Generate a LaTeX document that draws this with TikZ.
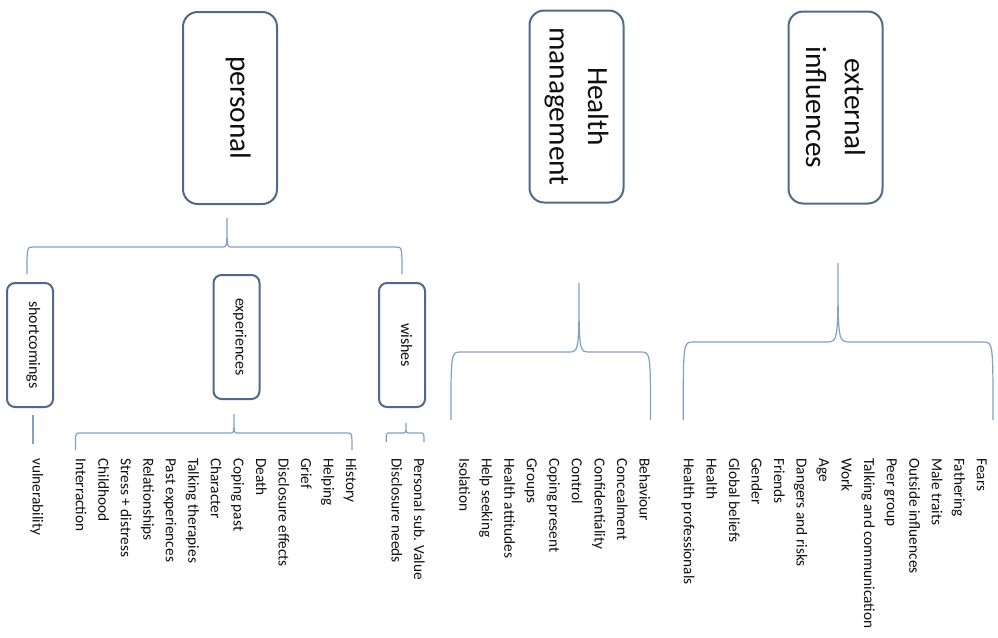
\documentclass[tikz,border=0pt]{standalone}
\usepackage{fontspec}
\setmainfont{Carlito}
\usetikzlibrary{calc}
\definecolor{boxline}{RGB}{78,106,136}
\definecolor{braceline}{RGB}{128,160,198}
\definecolor{itemtext}{RGB}{15,15,15}
\def\curlybrace[#1](#2)(#3)(#4)(#5:#6:#7){\draw[#1] (#2) .. controls (#2|-#5) .. ($(#2|-#5)+(#6,0)$) -- ($(#3|-#5)-(#7,0)$) .. controls (#3|-#5) .. (#3) .. controls (#3|-#5) .. ($(#3|-#5)+(#7,0)$) -- ($(#4|-#5)-(#6,0)$) .. controls (#4|-#5) .. (#4);}
\tikzset{
  topbox/.style={draw=boxline, line width=1.5pt, rounded corners=11pt, rotate=-90, minimum width=144pt, minimum height=70.5pt, inner sep=0pt, align=center, text=itemtext, font=\fontsize{22}{29}\selectfont},
  subbox/.style={draw=boxline, line width=1.5pt, rounded corners=6pt, rotate=-90, minimum width=93pt, minimum height=34.5pt, inner sep=0pt, text height=6pt, text depth=4.5pt, text=itemtext, font=\fontsize{12}{14}\selectfont},
  itemlist/.style={rotate=-90, anchor=north west, align=left, inner sep=0pt, text=itemtext, font=\fontsize{11.5}{16.9}\selectfont},
  brace/.style={draw=braceline, line width=0.9pt},
}

\begin{document}
\begin{tikzpicture}[x=0.75pt, y=-0.75pt]
		%%%%% START %%%%%
		\useasboundingbox (0,0) rectangle (998,637);
		
		\node[topbox, text height=10pt, text depth=10.5pt] (personal) at (230,108) {personal};
		\node[topbox] (health) at (576.5,106.5) {Health\\management};
		\node[topbox] (external) at (835.5,107.5) {external\\influences};
		
		\node[subbox] (shortc) at (30,345) {shortcomings};
		\node[subbox] (exper) at (236.5,337) {experiences};
		\node[subbox] (wishes) at (402,345) {wishes};
		
		\node[itemlist] (vuln) at (43.5,458) {vulnerability};
		\node[itemlist] (explist) at (357,458) {History\\Helping\\Grief\\Disclosure effects\\Death\\Coping past\\Character\\Talking therapies\\Past experiences\\Relationships\\Stress + distress\\Childhood\\Interraction};
		\node[itemlist] (wishlist) at (425,458) {Personal sub. Value\\Disclosure needs};
		\node[itemlist] (healthlist) at (650.5,458) {Behaviour\\Concealment\\Confidentiality\\Control\\Coping present\\Groups\\Health attitudes\\Help seeking\\Isolation};
		\node[itemlist] (extlist) at (987,458) {Fears\\Fathering\\Male traits\\Outside influences\\Peer group\\Talking and communication\\Work\\Age\\Dangers and risks\\Friends\\Gender\\Global beliefs\\Health\\Health professionals};
		
		\coordinate (ptip) at ($(personal.east)+(-3,13)$);
		\coordinate (pleft) at ($(shortc.west)+(-3,-8)$);
		\coordinate (pright) at ($(wishes.west)+(0,-8)$);
		\coordinate (pmid) at (0,247);
		\curlybrace[brace](pleft)(ptip)(pright)(pmid:6:4)
		
		\draw[brace] ($(shortc.east)+(3,7)$) -- ($(shortc.east)+(3,36)$);
		
		\coordinate (etip) at ($(exper.east)+(-2.5,14)$);
		\coordinate (eleft) at ($(explist.south west)+(0,-8)$);
		\coordinate (eright) at ($(explist.north west)+(-5,-8)$);
		\coordinate (emid) at (0,433);
		\curlybrace[brace](eleft)(etip)(eright)(emid:4:3)
		
		\coordinate (wtip) at ($(wishes.east)+(4,15)$);
		\coordinate (wleft) at ($(wishlist.south west)+(-5,-16)$);
		\coordinate (wright) at ($(wishlist.north west)+(-1,-16)$);
		\coordinate (wmid) at (0,433);
		\curlybrace[brace](wleft)(wtip)(wright)(wmid:3:2)
		
		\coordinate (htip) at ($(health.east)+(2.5,79.5)$);
		\coordinate (hleft) at ($(healthlist.south west)+(-8,-38)$);
		\coordinate (hright) at ($(healthlist.north west)+(0,-38)$);
		\coordinate (hmid) at (0,352);
		\curlybrace[brace](hleft)(htip)(hright)(hmid:10:11)
		
		\coordinate (xtip) at ($(external.east)+(2.5,58.5)$);
		\coordinate (xleft) at ($(extlist.south west)+(2,-38)$);
		\coordinate (xright) at ($(extlist.north west)+(6,-38)$);
		\coordinate (xmid) at (0,342);
		\curlybrace[brace](xleft)(xtip)(xright)(xmid:10:12)
		
		%%%%% END %%%%%
\end{tikzpicture}
\end{document}
